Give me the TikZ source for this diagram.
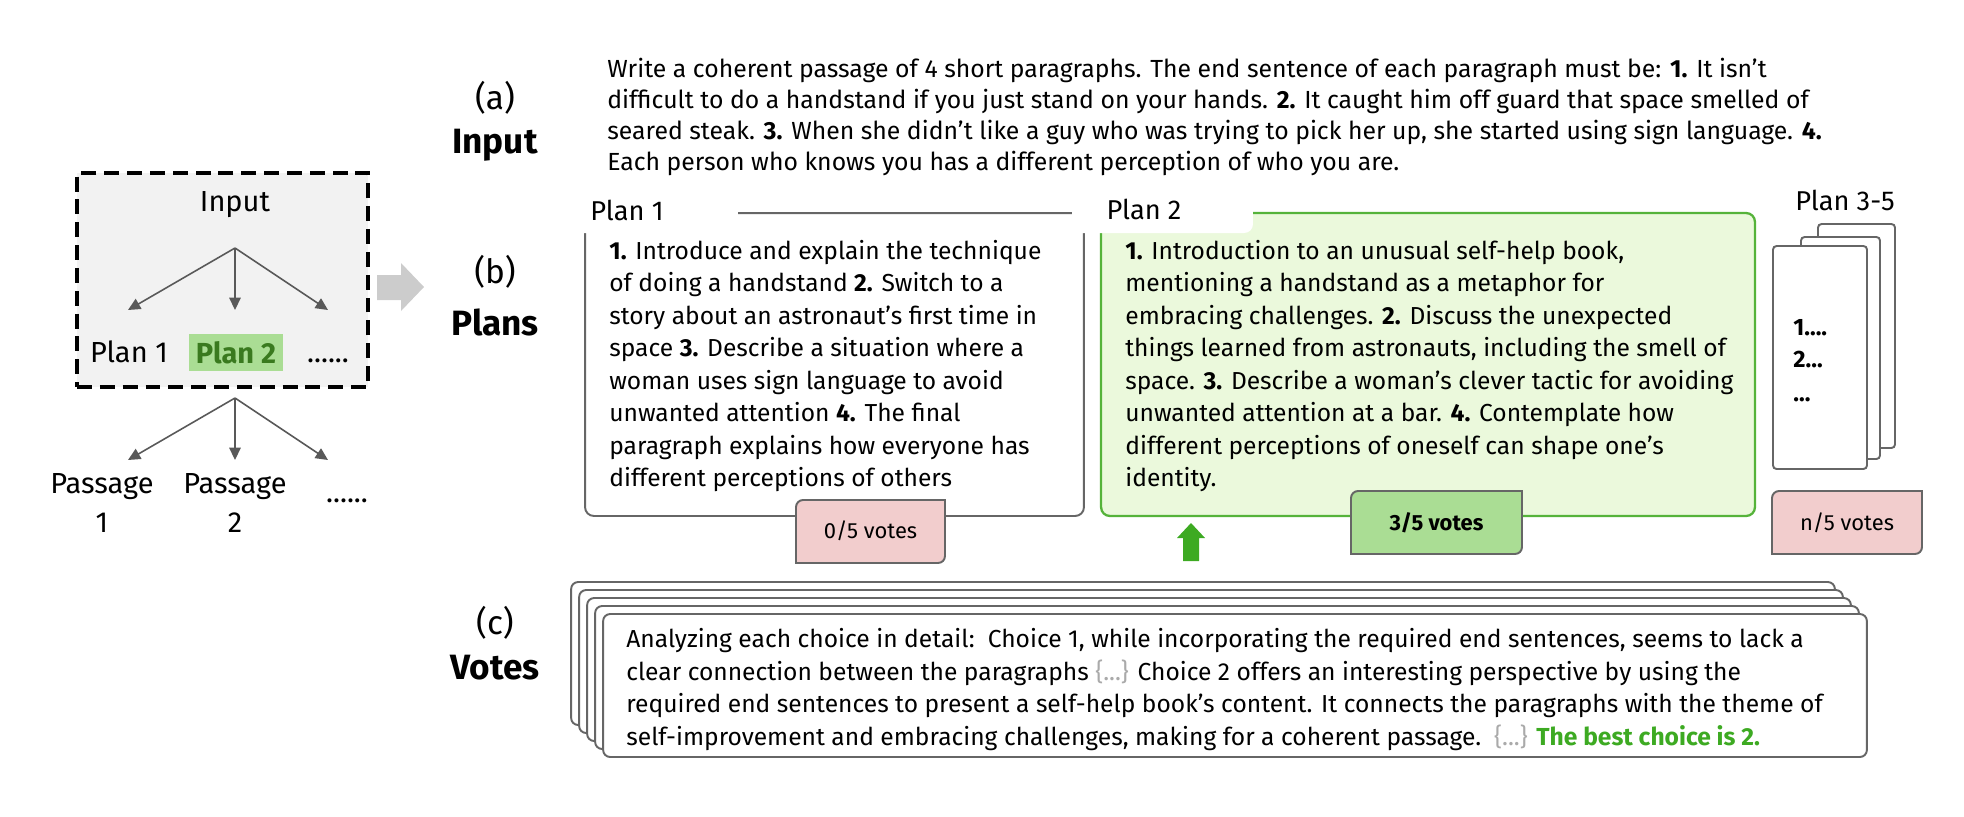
\documentclass[tikz,border=0pt]{standalone}
\usepackage{fontspec}
\setmainfont{Fira Sans}
\usepackage{xcolor}
\usetikzlibrary{arrows.meta}

\definecolor{boxline}{HTML}{666666}
\definecolor{framefill}{HTML}{F2F2F2}
\definecolor{treegray}{HTML}{595959}
\definecolor{flowgray}{HTML}{CCCCCC}
\definecolor{greenfill}{HTML}{EBF9DC}
\definecolor{greenline}{HTML}{55B33A}
\definecolor{votegreen}{HTML}{AADD94}
\definecolor{darkgreen}{HTML}{3A7A1F}
\definecolor{bestgreen}{HTML}{3DAA22}
\definecolor{pinkfill}{HTML}{F2CDCD}
\definecolor{bracegray}{HTML}{AAAAAA}

\begin{document}
\begin{tikzpicture}[x=0.02cm, y=-0.02cm,
  frame/.style={draw, line width=2.2pt, dash pattern=on 8.5pt off 4.5pt, fill=framefill, minimum width=5.82cm, minimum height=4.28cm},
  tree/.style={draw=treegray, line width=0.9pt, -{Triangle[length=7pt,width=6.5pt]}},
  small/.style={font=\fontsize{16.5}{22.5}\selectfont, inner sep=0pt, align=center},
  tag/.style={font=\fontsize{15.5}{19}\selectfont, inner sep=0pt},
  head/.style={font=\fontsize{20}{24}\selectfont\bfseries, inner sep=0pt},
  steplbl/.style={font=\fontsize{19}{23}\selectfont, inner sep=0pt},
  plan/.style={draw=boxline, line width=1.1pt, rounded corners=5pt, fill=white, minimum height=6.06cm},
  tab/.style={fill=white, rounded corners=5pt, minimum height=0.9cm},
  body/.style={font=\fontsize{14}{18.5}\selectfont, inner sep=0pt, align=left, anchor=west},
  page/.style={draw=boxline, line width=1.1pt, rounded corners=2pt, fill=white},
  stack/.style={draw=boxline, line width=1.1pt, rounded corners=4pt, fill=white, minimum width=25.28cm, minimum height=2.86cm},
  votebox/.style={draw=boxline, line width=1.1pt},
  vlbl/.style={font=\fontsize{12.5}{15}\selectfont, inner sep=0pt}
]
\useasboundingbox (0,0) rectangle (1964,816);

% Left: overview
\node[frame] (setup) at (222.5,280) {};
\node[small] (in) at (235,205) {Input};
\coordinate (fork1) at (235,248);
\coordinate (tip1) at (128,310);
\coordinate (tip2) at (235,310);
\coordinate (tip3) at (328,310);
\node[small, anchor=base] (lp1) at (129,362) {Plan 1};
\node[small, anchor=base, fill=votegreen, inner xsep=4pt, inner ysep=4pt, text=darkgreen, font=\fontsize{16.5}{20}\selectfont\bfseries] (lp2) at (236,363) {Plan 2};
\node[small, anchor=base] (lp3) at (328,362) {......};
\draw[tree] (fork1) -- (tip1);
\draw[tree] (fork1) -- (tip2);
\draw[tree] (fork1) -- (tip3);

\coordinate (fork2) at (235,398);
\coordinate (tip4) at (128,460);
\coordinate (tip5) at (235,460);
\coordinate (tip6) at (328,460);
\draw[tree] (fork2) -- (tip4);
\draw[tree] (fork2) -- (tip5);
\draw[tree] (fork2) -- (tip6);
\node[small] (ps1) at (102,503) {Passage\\1};
\node[small] (ps2) at (235,503) {Passage\\2};
\node[small, anchor=base] (ps3) at (347,502) {......};

% Flow arrow
\fill[flowgray] (377,275) -- (401,275) -- (401,263) -- (424,287) -- (401,311) -- (401,300) -- (377,300) -- cycle;

% Row labels
\node[steplbl] (a) at (495,98)  {(a)};
\node[head] (ina) at (495,145) {Input};
\node[steplbl] (b) at (495,272) {(b)};
\node[head] (plans) at (495,322) {Plans};
\node[steplbl] (c) at (495,623) {(c)};
\node[head] (votes) at (495,668) {Votes};

% (a) input
\node[body, font=\fontsize{14.1}{17.6}\selectfont] (prompt) at (607,117) {Write a coherent passage of 4 short paragraphs. The end sentence of each paragraph must be: \textbf{1.} It isn't\\
difficult to do a handstand if you just stand on your hands. \textbf{2.} It caught him off guard that space smelled of\\
seared steak. \textbf{3.} When she didn’t like a guy who was trying to pick her up, she started using sign language. \textbf{4.}\\
Each person who knows you has a different perception of who you are.};

% (b) plans
\node[plan, minimum width=9.98cm] (plan1) at (834.5,364.5) {};
\node[plan, draw=greenline, fill=greenfill, line width=1.3pt, minimum width=13.08cm] (plan2) at (1428,364.5) {};
\node[tab, minimum width=3.26cm] (tab1) at (656.5,210.5) {};
\node[tab, minimum width=3.62cm] (tab2) at (1162.5,210.5) {};
\node[tag] (name1) at (627,210) {Plan 1};
\node[tag] (name2) at (1144,209) {Plan 2};
\node[tag] (name3) at (1845,200) {Plan 3-5};

\node[body] (plan1txt) at (609,366) {\textbf{1.} Introduce and explain the technique\\
of doing a handstand \textbf{2.} Switch to a\\
story about an astronaut's first time in\\
space \textbf{3.} Describe a situation where a\\
woman uses sign language to avoid\\
unwanted attention \textbf{4.} The final\\
paragraph explains how everyone has\\
different perceptions of others};

\node[body] (plan2txt) at (1125,366) {\textbf{1.} Introduction to an unusual self-help book,\\
mentioning a handstand as a metaphor for\\
embracing challenges. \textbf{2.} Discuss the unexpected\\
things learned from astronauts, including the smell of\\
space. \textbf{3.} Describe a woman's clever tactic for avoiding\\
unwanted attention at a bar. \textbf{4.} Contemplate how\\
different perceptions of oneself can shape one's\\
identity.};

% Plan 3-5 pages
\node[page, minimum width=1.54cm, minimum height=4.48cm] (pg3) at (1856.5,336) {};
\node[page, minimum width=1.58cm, minimum height=4.44cm] (pg2) at (1840.5,348) {};
\node[page, minimum width=1.88cm, minimum height=4.46cm] (pg1) at (1820,357.5) {};
\node[body, anchor=base west, font=\fontsize{13.5}{16}\selectfont\bfseries] (d1) at (1793,335) {1....};
\node[body, anchor=base west, font=\fontsize{13.5}{16}\selectfont\bfseries] (d2) at (1793,367) {2...};
\node[body, anchor=base west, font=\fontsize{13.5}{16}\selectfont\bfseries] (d3) at (1793,401) {...};

% Vote counts
\filldraw[votebox, fill=pinkfill] (796,563) [rounded corners=4pt] -- (796,500) [sharp corners] -- (945,500) [rounded corners=4pt] -- (945,563) [sharp corners] -- cycle;
\node[vlbl] (v1) at (870.5,531) {0/5 votes};
\filldraw[votebox, fill=votegreen] (1351,554) [rounded corners=4pt] -- (1351,491) [sharp corners] -- (1522,491) [rounded corners=4pt] -- (1522,554) [sharp corners] -- cycle;
\node[vlbl, font=\fontsize{12.5}{15}\selectfont\bfseries] (v2) at (1436.5,522.5) {3/5 votes};
\filldraw[votebox, fill=pinkfill] (1772,554) [rounded corners=4pt] -- (1772,491) [sharp corners] -- (1922,491) [rounded corners=4pt] -- (1922,554) [sharp corners] -- cycle;
\node[vlbl] (v3) at (1847,522.5) {n/5 votes};

% Winner arrow
\fill[bestgreen] (1183,561) -- (1183,538) -- (1177,538) -- (1191,523) -- (1205,538) -- (1199,538) -- (1199,561) -- cycle;

% (c) votes
\node[stack] (vote5) at (1203,653.5) {};
\node[stack] (vote4) at (1211,661.5) {};
\node[stack] (vote3) at (1219,669.5) {};
\node[stack] (vote2) at (1227,677.5) {};
\node[stack] (vote1) at (1235,685.5) {};
\node[body, font=\fontsize{14}{18.7}\selectfont] (votetxt) at (626,689.5) {Analyzing each choice in detail:\ \ Choice 1, while incorporating the required end sentences, seems to lack a\\
clear connection between the paragraphs {\color{bracegray}\{...\}} Choice 2 offers an interesting perspective by using the\\
required end sentences to present a self-help book's content. It connects the paragraphs with the theme of\\
self-improvement and embracing challenges, making for a coherent passage.\ \ {\color{bracegray}\{...\}} {\color{bestgreen}\textbf{The best choice is 2.}}};
\end{tikzpicture}
\end{document}
